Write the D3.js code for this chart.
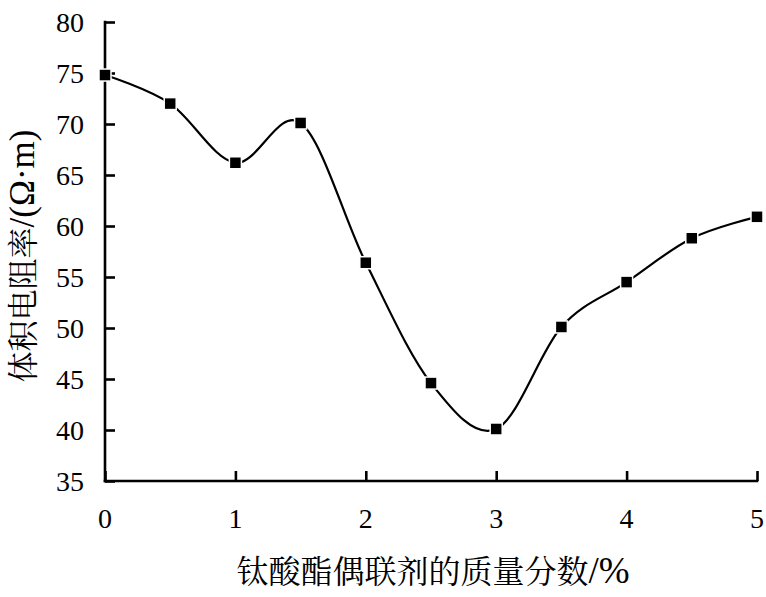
<!DOCTYPE html>
<html><head><meta charset="utf-8">
<script src="https://cdn.jsdelivr.net/npm/d3@7"></script>
<style>
html,body{margin:0;padding:0;background:#fff;}
svg{display:block;}
</style></head>
<body>
<svg id="chart" width="766" height="597"></svg>
<script>
const xValues = [0, 0.5, 1, 1.5, 2, 2.5, 3, 3.5, 4, 4.5, 5];
const resistivity = [74.8, 72.0, 66.2, 70.1, 56.4, 44.6, 40.1, 50.1, 54.5, 58.8, 60.9];
const xTicks = [0, 1, 2, 3, 4, 5];
const yTicks = [35, 40, 45, 50, 55, 60, 65, 70, 75, 80];
const xTitleCJK = "钛酸酯偶联剂的质量分数";
const xTitleLatin = "/%";
const yTitleCJK = "体积电阻率";
const yTitleLatin = "/(Ω·m)";

(function () {
const svg = d3.select("#chart");
const mLeft = 105, mRight = 757, mTop = 22, mBottom = 481;
const x = d3.scaleLinear().domain([0, 5]).range([mLeft, mRight]);
const y = d3.scaleLinear().domain([35, 80]).range([mBottom, mTop]);
const LATIN = '"Liberation Serif", serif';
const CJK = '"Noto Serif CJK SC", "Noto Sans CJK SC", serif';

// axes
const yAxis = svg.append("g").attr("transform", `translate(${mLeft},0)`)
  .call(d3.axisRight(y).tickValues(yTicks).tickSize(10).tickFormat(""));
const xAxis = svg.append("g").attr("transform", `translate(0,${mBottom})`)
  .call(d3.axisTop(x).tickValues(xTicks).tickSize(10).tickFormat(""));
[yAxis, xAxis].forEach(g => {
  g.select(".domain").remove();
  g.selectAll(".tick line").attr("stroke", "#000").attr("stroke-width", 2.6);
});
svg.append("line").attr("x1", mLeft).attr("x2", mLeft).attr("y1", mTop - 1.3).attr("y2", mBottom + 1.3)
  .attr("stroke", "#000").attr("stroke-width", 2.6);
svg.append("line").attr("x1", mLeft - 1.3).attr("x2", mRight + 1.3).attr("y1", mBottom).attr("y2", mBottom)
  .attr("stroke", "#000").attr("stroke-width", 2.6);

// tick labels
svg.append("g").selectAll("text").data(yTicks).join("text")
  .style("font-family", LATIN).style("font-size", "28px")
  .attr("x", 84).attr("y", d => y(d)).attr("dy", "0.34em")
  .attr("text-anchor", "end")
  .text(d => d);
svg.append("g").selectAll("text").data(xTicks).join("text")
  .style("font-family", LATIN).style("font-size", "28px")
  .attr("x", d => x(d)).attr("y", 528)
  .attr("text-anchor", "middle")
  .text(d => d);

// line
const pts = xValues.map((v, i) => [v, resistivity[i]]);
const line = d3.line().x(d => x(d[0])).y(d => y(d[1])).curve(d3.curveCardinal.tension(0));
svg.append("path").datum(pts).attr("d", line)
  .attr("fill", "none").attr("stroke", "#000").attr("stroke-width", 2.2);

// markers
const ms = 12;
svg.append("g").selectAll("rect").data(pts).join("rect")
  .attr("x", d => x(d[0]) - ms / 2).attr("y", d => y(d[1]) - ms / 2)
  .attr("width", ms).attr("height", ms)
  .attr("fill", "#000").attr("stroke", "#fff").attr("stroke-width", 1.5);

// x title
const xt = svg.append("text").attr("x", 433).attr("y", 583).attr("text-anchor", "middle");
xt.append("tspan").style("font-family", CJK).style("font-size", "32px").text(xTitleCJK);
xt.append("tspan").style("font-family", LATIN).style("font-size", "37px").text(xTitleLatin);

// y title
const yt = svg.append("text").attr("transform", "translate(34,256) rotate(-90)").attr("text-anchor", "middle");
yt.append("tspan").style("font-family", CJK).style("font-size", "31px").text(yTitleCJK);
yt.append("tspan").style("font-family", LATIN).style("font-size", "35px").text(yTitleLatin);
})();
</script>
</body></html>
